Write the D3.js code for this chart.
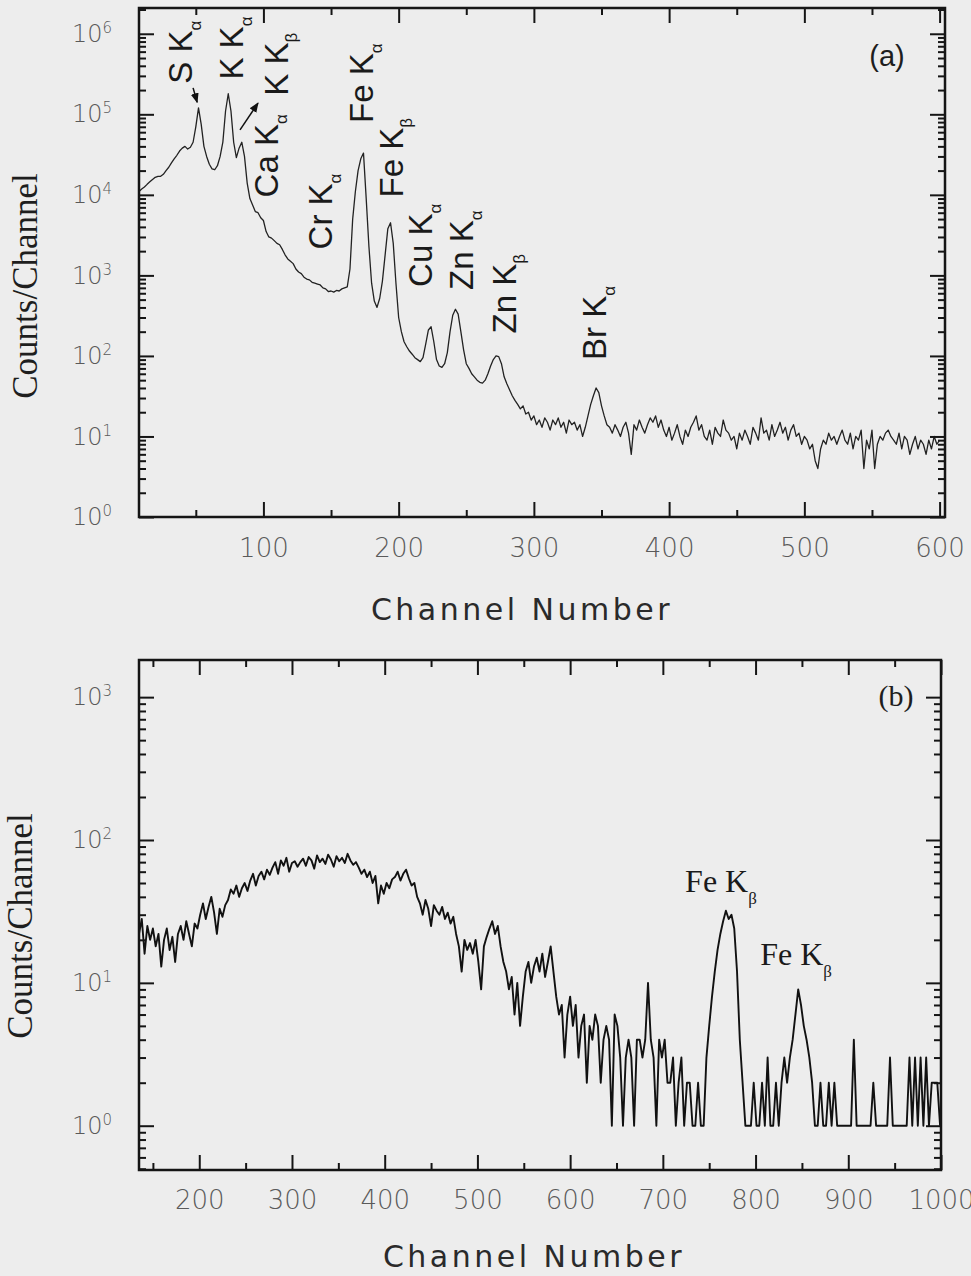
<!DOCTYPE html>
<html>
<head>
<meta charset="utf-8">
<script src="https://cdn.jsdelivr.net/npm/d3@7"></script>
<style>
body { margin: 0; background: #ededed; }
svg { display: block; }
</style>
</head>
<body>
<div id="viz-container"></div>
<script>
//panel (a): counts read every 2 channels, starting at channel 8
let channelStartA = 8;
let channelStepA = 2;
let countsA = [
    11000, 11800, 12500, 13500, 14500, 15500, 16500, 17000, 17000, 18000,
    20000, 22000, 25000, 28000, 31000, 35000, 38000, 40000, 37000, 39000,
    45000, 70000, 120000, 75000, 40000, 30000, 24000, 21000, 20500, 23000,
    30000, 45000, 110000, 180000, 110000, 45000, 29000, 38000, 45000, 30000,
    14000, 9000, 7500, 6200, 6000, 5200, 4800, 3500, 3000, 2900,
    2700, 2500, 2400, 2100, 1800, 1600, 1500, 1400, 1200, 1100,
    1050, 950, 900, 880, 820, 800, 780, 760, 700, 680,
    630, 640, 620, 650, 640, 680, 700, 720, 1200, 5000,
    11000, 20000, 28000, 33000, 9000, 2300, 800, 480, 400, 520,
    850, 1800, 3800, 4500, 2500, 800, 300, 200, 150, 130,
    115, 105, 95, 90, 85, 95, 140, 210, 230, 150,
    90, 75, 72, 80, 110, 200, 320, 380, 330, 200,
    120, 80, 70, 60, 55, 50, 47, 46, 50, 60,
    75, 90, 100, 98, 80, 55, 45, 38, 32, 28,
    25, 22, 24, 19, 20, 16, 18, 14, 16, 13,
    17, 15, 12, 16, 14, 17, 13, 15, 11, 16,
    14, 15, 12, 14, 10, 13, 18, 25, 32, 40,
    35, 24, 18, 14, 13, 11, 14, 12, 10, 13,
    15, 11, 6, 14, 12, 16, 13, 11, 14, 17,
    15, 18, 13, 16, 12, 10, 13, 9, 11, 14,
    10, 8, 12, 10, 13, 15, 18, 12, 14, 10,
    9, 12, 8, 13, 11, 10, 16, 12, 11, 9,
    10, 7, 11, 9, 12, 10, 8, 13, 11, 9,
    17, 11, 12, 9, 14, 10, 12, 15, 11, 13,
    9, 12, 14, 10, 11, 8, 10, 9, 7, 8,
    5, 4, 7, 9, 8, 11, 9, 10, 8, 10,
    12, 9, 8, 11, 7, 10, 9, 12, 4, 9,
    7, 12, 4, 8, 10, 9, 11, 12, 10, 9,
    8, 11, 7, 10, 9, 6, 8, 10, 7, 9,
    8, 6, 9, 7, 10, 8, 9
];

//panel (b): counts read every 3 channels, starting at channel 135
let channelStartB = 135;
let channelStepB = 3;
let countsB = [
    22, 28, 16, 25, 20, 24,
    18, 22, 13, 20, 24, 17, 21, 14, 22,
    25, 20, 27, 22, 18, 26, 24,
    30, 36, 28, 34, 40, 31, 22, 33, 29, 35,
    38, 45, 42, 48, 40, 46, 50, 44,
    52, 58, 48, 56, 60, 53, 62, 57,
    64, 70, 58, 72, 66, 75, 60, 69, 71, 65,
    70, 74, 66, 76, 72, 63, 78, 70, 74, 68, 79, 73, 65, 77, 71, 75, 69, 80, 72, 67,
    70, 64, 58, 62, 55, 60, 50, 56,
    36, 48, 42, 50, 46, 53,
    55, 60, 52, 58, 62, 54, 48, 50,
    40, 36, 30, 38, 33, 25, 35, 32,
    30, 34, 28, 31, 26, 29,
    22, 18, 12, 20, 17, 19,
    16, 20, 14, 9, 18, 21,
    24, 27, 22, 25, 18, 14,
    12, 9, 11, 6, 10, 5, 8,
    12, 14, 10, 13, 15, 12, 16, 11,
    14, 18, 12,
    8, 6, 7, 3, 6, 8, 5, 7, 3,
    5, 6, 2, 5, 4, 6, 5, 2, 4,
    5, 4, 1, 6, 5, 3, 1,
    3, 4, 3, 1, 4,
    4, 3, 4, 10, 4, 3, 1, 4, 3, 4, 2,
    2, 3, 1, 2, 3, 1, 2, 2, 1,
    1, 2, 1, 1,
    3, 5, 8, 12, 17, 22, 27,
    32, 28, 30, 24,
    12, 4, 2, 1,
    1, 1, 2, 1, 1, 2, 1, 3, 1, 1, 2, 1, 2, 3, 2,
    3, 4, 6, 9, 7,
    5, 4, 3, 2, 1,
    1, 2, 1, 1, 2, 1, 2, 1, 1, 1, 1, 1, 1, 4, 1, 1, 1, 1, 1, 1,
    2, 1, 1, 1, 1, 1, 3, 1, 1, 1, 1, 1, 1, 3, 1, 3, 1, 3, 1, 3,
    1, 2, 2, 2, 1
];

//tick values
let xTicksA = [100, 200, 300, 400, 500, 600];
let xMinorA = [50, 150, 250, 350, 450, 550];
let decadesA = [0, 1, 2, 3, 4, 5, 6];
let xTicksB = [200, 300, 400, 500, 600, 700, 800, 900, 1000];
let xMinorB = [150, 250, 350, 450, 550, 650, 750, 850, 950];
let decadesB = [0, 1, 2, 3];

//peak labels of panel (a), placed at (channel, count) where the text starts
let peakNamesA = ["S K", "K K", "K K", "Ca K", "Cr K", "Fe K", "Fe K", "Cu K", "Zn K", "Zn K", "Br K"];
let peakSubsA = ["α", "α", "β", "α", "α", "α", "β", "α", "α", "β", "α"];
let peakChA = [47, 85, 118, 111, 151, 181, 203, 225, 255, 287, 353];
let peakCountA = [240000, 270000, 170000, 9300, 2100, 78000, 9300, 720, 660, 190, 89];
//arrows [fromCh, fromCount, toCh, toCount]
let arrowsA = [[48, 213000, 51, 141000], [82.7, 64000, 96, 138000]];

//peak labels of panel (b)
let peakNamesB = ["Fe K", "Fe K"];
let peakSubsB = ["β", "β"];
let peakChB = [724, 805];
let peakCountB = [43, 13.3];

let svg = d3.select("#viz-container")
    .append("svg")
    .attr("width", 971)
    .attr("height", 1276)
    .style("background-color", "#ededed");

svg.append("defs").append("marker")
    .attr("id", "arrow")
    .attr("markerUnits", "userSpaceOnUse")
    .attr("markerWidth", 10).attr("markerHeight", 10)
    .attr("refX", 9).attr("refY", 5)
    .attr("orient", "auto")
    .append("path").attr("d", "M0,1 L10,5 L0,9 z").attr("fill", "#111");

const tickFont = "'DejaVu Sans', sans-serif";

function minorLog(domain) {
    let out = [];
    let lo = Math.floor(Math.log10(domain[0])), hi = Math.ceil(Math.log10(domain[1]));
    for (let k = lo; k <= hi; k++) {
        for (let m = 2; m < 10; m++) {
            let v = m * Math.pow(10, k);
            if (v > domain[0] && v < domain[1]) out.push(v);
        }
    }
    return out;
}

function styleAxis(sel) {
    sel.select(".domain").remove();
    sel.selectAll(".tick line").attr("stroke", "#151515").attr("stroke-width", 2);
}

function drawPanel(p) {
    let x = d3.scaleLinear().domain(p.xDomain).range([p.left, p.right]);
    let y = d3.scaleLog().domain(p.yDomain).range([p.bottom, p.top]);
    let g = svg.append("g");

    let data = p.counts.map((c, i) => ({ ch: p.start + i * p.step, c: c }));

    g.append("path")
        .datum(data)
        .attr("d", d3.line().x(d => x(d.ch)).y(d => y(d.c)))
        .attr("fill", "none")
        .attr("stroke", p.lineColor)
        .attr("stroke-width", p.lineWidth)
        .attr("stroke-linejoin", "round");

    let majorY = p.decades.map(k => Math.pow(10, k));
    let minorY = minorLog(p.yDomain);

    //left
    let left = g.append("g").attr("transform", "translate(" + p.left + ",0)")
        .call(d3.axisLeft(y).tickValues(majorY).tickSize(-15).tickPadding(27).tickFormat(""))
        .attr("font-family", tickFont).attr("font-size", 24).attr("font-weight", 200);
    styleAxis(left);
    left.selectAll(".tick text").attr("fill", "#5a5a5a").each(function (d) {
        let t = d3.select(this);
        t.append("tspan").text("10");
        t.append("tspan").attr("dy", "-0.6em").attr("font-size", 15).text(Math.round(Math.log10(d)));
    });
    styleAxis(g.append("g").attr("transform", "translate(" + p.left + ",0)")
        .call(d3.axisLeft(y).tickValues(minorY).tickSize(-7).tickFormat("")));

    //right
    styleAxis(g.append("g").attr("transform", "translate(" + p.right + ",0)")
        .call(d3.axisRight(y).tickValues(majorY).tickSize(-15).tickFormat("")));
    styleAxis(g.append("g").attr("transform", "translate(" + p.right + ",0)")
        .call(d3.axisRight(y).tickValues(minorY).tickSize(-7).tickFormat("")));

    //bottom
    let bottom = g.append("g").attr("transform", "translate(0," + p.bottom + ")")
        .call(d3.axisBottom(x).tickValues(p.xTicks).tickSize(-15).tickPadding(p.xPad).tickFormat(d3.format("d")))
        .attr("font-family", tickFont).attr("font-size", 26).attr("font-weight", 200);
    styleAxis(bottom);
    bottom.selectAll(".tick text").attr("fill", "#5a5a5a");
    styleAxis(g.append("g").attr("transform", "translate(0," + p.bottom + ")")
        .call(d3.axisBottom(x).tickValues(p.xMinor).tickSize(-7).tickFormat("")));

    //top
    styleAxis(g.append("g").attr("transform", "translate(0," + p.top + ")")
        .call(d3.axisTop(x).tickValues(p.xTicks.filter(v => v <= p.xDomain[1])).tickSize(-15).tickFormat("")));
    styleAxis(g.append("g").attr("transform", "translate(0," + p.top + ")")
        .call(d3.axisTop(x).tickValues(p.xMinor).tickSize(-7).tickFormat("")));

    //frame
    g.append("rect")
        .attr("x", p.left).attr("y", p.top)
        .attr("width", p.right - p.left).attr("height", p.bottom - p.top)
        .attr("fill", "none").attr("stroke", "#151515").attr("stroke-width", 2.5);

    //titles
    g.append("text")
        .attr("x", p.xTitleX).attr("y", p.xTitleY)
        .attr("text-anchor", "middle")
        .attr("font-family", tickFont).attr("font-size", 30)
        .attr("letter-spacing", 3.5)
        .attr("fill", "#2a2a2a")
        .text("Channel Number");

    g.append("text")
        .attr("transform", "translate(" + p.yTitleX + "," + p.yTitleY + ") rotate(-90)")
        .attr("text-anchor", "middle")
        .attr("font-family", "'Liberation Serif', serif").attr("font-size", 35)
        .attr("fill", "#1e1e1e")
        .text("Counts/Channel");

    return { x: x, y: y, g: g };
}

//panel (a)
let pa = drawPanel({
    xDomain: [8, 604], yDomain: [1, Math.pow(10, 6.32)],
    left: 139, right: 945, top: 8, bottom: 517,
    counts: countsA, start: channelStartA, step: channelStepA,
    lineColor: "#222", lineWidth: 1.3,
    decades: decadesA, xTicks: xTicksA, xMinor: xMinorA, xPad: 22,
    xTitleX: 522, xTitleY: 620, yTitleX: 37, yTitleY: 286
});

peakNamesA.forEach(function (name, i) {
    let t = pa.g.append("text")
        .attr("transform", "translate(" + pa.x(peakChA[i]) + "," + pa.y(peakCountA[i]) + ") rotate(-90)")
        .attr("font-family", "'Liberation Sans', Arial, sans-serif")
        .attr("font-size", 33)
        .attr("fill", "#1a1a1a");
    t.append("tspan").text(name);
    t.append("tspan").attr("dy", 9).attr("font-size", 17).text(peakSubsA[i]);
});

arrowsA.forEach(function (a) {
    pa.g.append("line")
        .attr("x1", pa.x(a[0])).attr("y1", pa.y(a[1]))
        .attr("x2", pa.x(a[2])).attr("y2", pa.y(a[3]))
        .attr("stroke", "#111").attr("stroke-width", 1.5)
        .attr("marker-end", "url(#arrow)");
});

pa.g.append("text")
    .attr("x", 887).attr("y", 66)
    .attr("text-anchor", "middle")
    .attr("font-family", "'Liberation Sans', Arial, sans-serif")
    .attr("font-size", 29).attr("fill", "#1e1e1e")
    .text("(a)");

//panel (b)
let pb = drawPanel({
    xDomain: [135, 1000], yDomain: [Math.pow(10, -0.31), Math.pow(10, 3.26)],
    left: 139, right: 941, top: 660, bottom: 1170,
    counts: countsB, start: channelStartB, step: channelStepB,
    lineColor: "#111", lineWidth: 1.9,
    decades: decadesB, xTicks: xTicksB, xMinor: xMinorB, xPad: 21,
    xTitleX: 534, xTitleY: 1267, yTitleX: 32, yTitleY: 926
});

peakNamesB.forEach(function (name, i) {
    let t = pb.g.append("text")
        .attr("x", pb.x(peakChB[i])).attr("y", pb.y(peakCountB[i]))
        .attr("font-family", "'Liberation Serif', serif")
        .attr("font-size", 32)
        .attr("fill", "#1a1a1a");
    t.append("tspan").text(name);
    t.append("tspan").attr("dy", 12).attr("font-size", 17).text(peakSubsB[i]);
});

pb.g.append("text")
    .attr("x", 896).attr("y", 706)
    .attr("text-anchor", "middle")
    .attr("font-family", "'Liberation Serif', serif")
    .attr("font-size", 30).attr("fill", "#1e1e1e")
    .text("(b)");
</script>
</body>
</html>
